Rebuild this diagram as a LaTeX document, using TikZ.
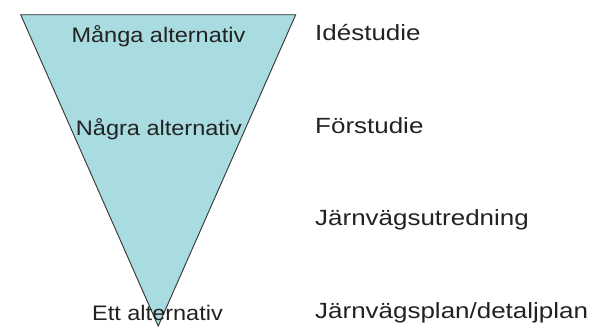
\documentclass[tikz,border=0pt]{standalone}
\usepackage{fontspec}
\setmainfont{Liberation Sans}
\usepackage{tikz}
\usetikzlibrary{positioning}
\definecolor{funnelfill}{RGB}{169,220,224}
\definecolor{textgray}{RGB}{34,34,34}

\begin{document}
\begin{tikzpicture}[
    x=1pt, y=-1pt,
    funnel/.style={draw=black!80, fill=funnelfill, line width=0.9pt, line join=miter},
    alt/.style={anchor=base, inner sep=0pt, text=textgray,
                font=\fontsize{21}{25}\selectfont, xscale=1.12, transform shape},
    phase/.style={anchor=base west, inner sep=0pt, text=textgray,
                  font=\fontsize{22}{26}\selectfont, xscale=1.18, transform shape}
]
\useasboundingbox (0,0) rectangle (596,327);
% funnel
\coordinate (tl) at (20.7,14.7);
\coordinate (tr) at (295.7,14.7);
\coordinate (tip) at (158.2,326);
\draw[funnel] (tl) -- (tr) -- (tip) -- cycle;
% alternatives
\node[alt] (many) at (158.5,42.5) {Många alternativ};
\node[alt] (some) at (159,135) {Några alternativ};
\node[alt] (one) at (157.5,320) {Ett alternativ};
% phases
\node[phase] (idea) at (315,40) {Idéstudie};
\node[phase] (pre) at (315,133) {Förstudie};
\node[phase] (inv) at (315,225) {Järnvägsutredning};
\node[phase] (plan) at (315,318) {Järnvägsplan/detaljplan};
\end{tikzpicture}
\end{document}
